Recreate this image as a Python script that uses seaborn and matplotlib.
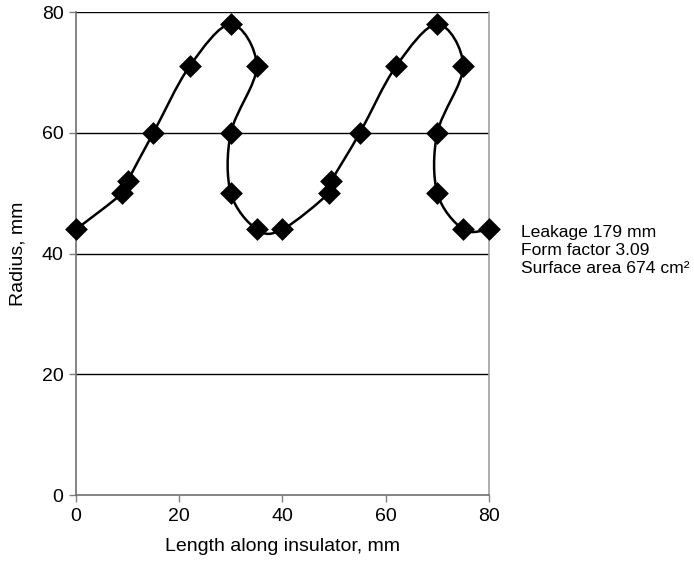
import numpy as np
import matplotlib
matplotlib.use("Agg")
import matplotlib.pyplot as plt
import seaborn as sns
from matplotlib.path import Path
from matplotlib.patches import PathPatch

# profile of the insulator shed
length_mm = [0, 9, 10, 15, 22, 30, 35, 30, 30, 35, 40,
             49, 49.5, 55, 62, 70, 75, 70, 70, 75, 80]
radius_mm = [44, 50, 52, 60, 71, 78, 71, 60, 50, 44, 44,
             50, 52, 60, 71, 78, 71, 60, 50, 44, 44]

y_ticks = [0, 20, 40, 60, 80]
x_ticks = [0, 20, 40, 60, 80]

info_lines = ["Leakage 179 mm", "Form factor 3.09", "Surface area 674 cm²"]


def smooth_path(xs, ys, tension=1 / 6):
    # Excel-like smoothed line: cubic bezier segments through the points
    pts = np.column_stack([xs, ys]).astype(float)
    n = len(pts)
    verts = [pts[0]]
    codes = [Path.MOVETO]
    for i in range(n - 1):
        p0 = pts[i - 1] if i > 0 else pts[i]
        p1 = pts[i]
        p2 = pts[i + 1]
        p3 = pts[i + 2] if i + 2 < n else pts[i + 1]
        c1 = p1 + (p2 - p0) * tension
        c2 = p2 - (p3 - p1) * tension
        verts += [c1, c2, p2]
        codes += [Path.CURVE4] * 3
    return Path(verts, codes)


def main():
    sns.set_style("white")
    plt.rcParams["font.family"] = ["Liberation Sans", "DejaVu Sans"]
    plt.rcParams["text.color"] = "black"
    plt.rcParams["axes.labelcolor"] = "black"
    plt.rcParams["xtick.labelcolor"] = "black"
    plt.rcParams["ytick.labelcolor"] = "black"

    fig = plt.figure(figsize=(6.94, 5.61), dpi=100)
    ax = fig.add_axes([0.1095, 0.1176, 0.595, 0.861])

    # horizontal gridlines
    for yv in y_ticks[1:]:
        ax.axhline(yv, color="black", lw=1.0, zorder=1)

    ax.add_patch(PathPatch(smooth_path(length_mm, radius_mm),
                           facecolor="none", edgecolor="black", lw=1.8, zorder=2))

    sns.scatterplot(x=length_mm, y=radius_mm, ax=ax, marker="D", s=135,
                    color="black", edgecolor="black", linewidth=0, zorder=3,
                    clip_on=False)

    ax.set_xlim(0, 80)
    ax.set_ylim(0, 80)
    ax.set_xticks(x_ticks)
    ax.set_yticks(y_ticks)
    ax.tick_params(axis="both", direction="out", length=5, width=1,
                   color="#808080", labelsize=14, pad=4, left=True, bottom=True)

    for side in ["left", "bottom"]:
        ax.spines[side].set_color("#707070")
        ax.spines[side].set_linewidth(1.2)
    ax.spines["right"].set_color("#a0a0a0")
    ax.spines["right"].set_linewidth(1.2)
    ax.spines["top"].set_visible(False)

    ax.set_xlabel("Length along insulator, mm", fontsize=14, labelpad=10)
    ax.set_ylabel("Radius, mm", fontsize=14, labelpad=11)

    fig.text(521 / 694, 1 - 225 / 561, "\n".join(info_lines), fontsize=12.6,
             va="top", ha="left", linespacing=1.25)

    fig.savefig("out.png", dpi=100)
    plt.close(fig)


if __name__ == "__main__":
    main()
